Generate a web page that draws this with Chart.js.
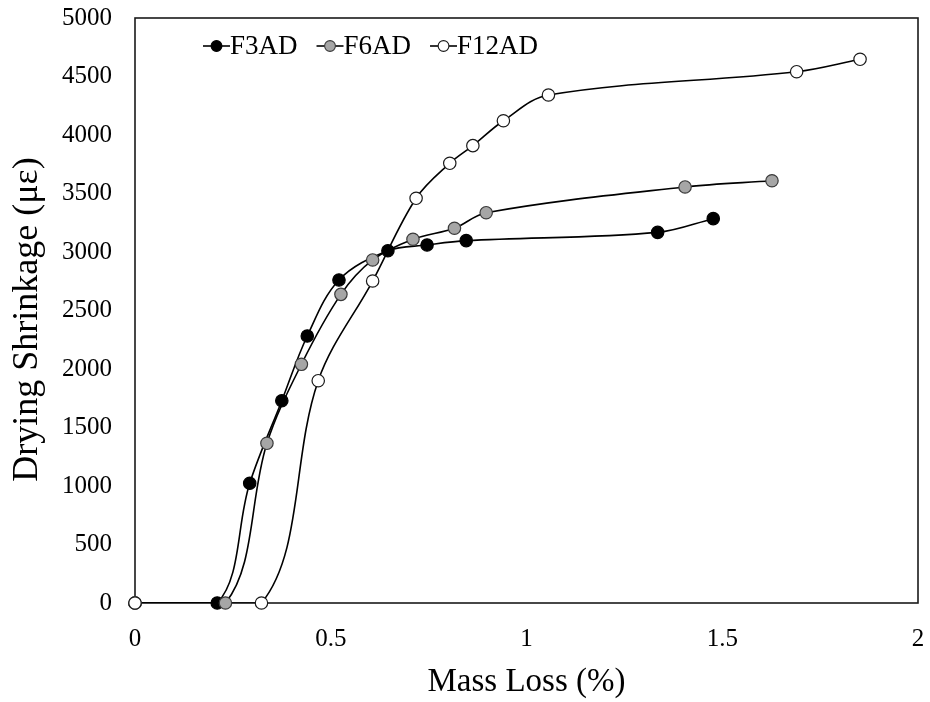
<!DOCTYPE html>
<html>
<head>
<meta charset="utf-8">
<script src="https://cdn.jsdelivr.net/npm/chart.js@4.4.1/dist/chart.umd.min.js"></script>
<style>
  html, body { margin: 0; padding: 0; background: #fff; }
  #wrap { width: 930px; height: 702px; }
</style>
</head>
<body>
<div id="wrap"><canvas id="chart" width="930" height="702"></canvas></div>
<script>
// values: mass loss (%) vs drying shrinkage (microstrain)
const seriesNames = ["F3AD", "F6AD", "F12AD"];

const massF3 = [0, 0.210, 0.293, 0.375, 0.440, 0.521, 0.646, 0.746, 0.846, 1.335, 1.477];
const shrinkF3 = [0, 0, 1023, 1729, 2282, 2761, 3011, 3060, 3097, 3168, 3285];

const massF6 = [0, 0.231, 0.337, 0.425, 0.526, 0.607, 0.710, 0.816, 0.897, 1.405, 1.627];
const shrinkF6 = [0, 0, 1365, 2040, 2638, 2932, 3109, 3203, 3336, 3556, 3609];

const massF12 = [0, 0.323, 0.468, 0.607, 0.718, 0.804, 0.863, 0.941, 1.056, 1.690, 1.852];
const shrinkF12 = [0, 0, 1900, 2752, 3459, 3758, 3909, 4122, 4342, 4541, 4647];

const xTicks = [0, 0.5, 1, 1.5, 2];
const yTicks = [0, 500, 1000, 1500, 2000, 2500, 3000, 3500, 4000, 4500, 5000];

const fills = ["#000000", "#a6a6a6", "#ffffff"];
const edges = ["#000000", "#3a3a3a", "#1a1a1a"];

const SERIF = "'Liberation Serif', 'Times New Roman', serif";

function toPoints(xs, ys) {
    return xs.map((x, i) => ({x, y: ys[i]}));
}

const raw = [
    toPoints(massF3, shrinkF3),
    toPoints(massF6, shrinkF6),
    toPoints(massF12, shrinkF12),
];

// curves are clipped to the plot box, markers are not (so the ones sitting on 0 stay round)
const lineSets = raw.map((pts, i) => ({
    label: seriesNames[i] + " line",
    data: pts,
    showLine: true,
    borderColor: "#000",
    borderWidth: 1.6,
    pointRadius: 0,
    tension: 0.35,
    fill: false,
    order: 10 - i,
}));
const markerSets = raw.map((pts, i) => ({
    label: seriesNames[i],
    data: pts,
    showLine: false,
    pointRadius: 6.2,
    pointBackgroundColor: fills[i],
    pointBorderColor: edges[i],
    pointBorderWidth: 1.2,
    clip: false,
    legend: true,
    order: 3 - i,
}));

const frame = {
    id: "frame",
    beforeDatasetsDraw(chart) {
        const {ctx, chartArea: a} = chart;
        ctx.save();
        ctx.strokeStyle = "#1a1a1a";
        ctx.lineWidth = 1.6;
        ctx.strokeRect(a.left, a.top, a.right - a.left, a.bottom - a.top);
        ctx.restore();
    },
};

// excel-like legend: short line with the marker on it, then the name
const lineLegend = {
    id: "lineLegend",
    afterDatasetsDraw(chart, args, opts) {
        const ctx = chart.ctx;
        ctx.save();
        ctx.font = opts.font;
        ctx.textBaseline = "middle";
        let x = opts.x;
        chart.data.datasets.filter(d => d.legend).forEach(d => {
            ctx.strokeStyle = "#000";
            ctx.lineWidth = 1.6;
            ctx.beginPath();
            ctx.moveTo(x, opts.y);
            ctx.lineTo(x + opts.lineLen, opts.y);
            ctx.stroke();
            ctx.beginPath();
            ctx.arc(x + opts.lineLen / 2, opts.y, 5.4, 0, Math.PI * 2);
            ctx.fillStyle = d.pointBackgroundColor;
            ctx.fill();
            ctx.lineWidth = 1.1;
            ctx.strokeStyle = d.pointBorderColor;
            ctx.stroke();
            ctx.fillStyle = "#000";
            ctx.fillText(d.label, x + opts.lineLen, opts.y + 1);
            x += opts.lineLen + ctx.measureText(d.label).width + opts.gap;
        });
        ctx.restore();
    },
};

// keep the plot box where the figure has it: no extra room for tick label overhang
function noOverhang(s) {
    s.paddingTop = 0;
    s.paddingBottom = 0;
    s.paddingLeft = 0;
    s.paddingRight = 0;
}

new Chart(document.getElementById("chart"), {
    type: "scatter",
    data: {datasets: [...lineSets, ...markerSets]},
    options: {
        responsive: false,
        animation: false,
        layout: {padding: {top: 18, right: 12, left: 0, bottom: 0}},
        plugins: {
            legend: {display: false},
            tooltip: {enabled: false},
            lineLegend: {x: 203, y: 46, lineLen: 27, gap: 19, font: "27px " + SERIF},
        },
        scales: {
            x: {
                type: "linear",
                min: 0,
                max: 2,
                afterBuildTicks: s => { s.ticks = xTicks.map(v => ({value: v})); },
                afterFit: s => { s.height = 99; noOverhang(s); },
                grid: {display: false, drawTicks: false},
                border: {display: false},
                ticks: {
                    padding: 21,
                    color: "#000",
                    font: {family: SERIF, size: 25},
                    callback: v => String(v),
                },
                title: {
                    display: true,
                    text: "Mass Loss (%)",
                    color: "#000",
                    font: {family: SERIF, size: 33, lineHeight: 1.1},
                    padding: {top: 0, bottom: 2},
                },
            },
            y: {
                type: "linear",
                min: 0,
                max: 5000,
                afterBuildTicks: s => { s.ticks = yTicks.map(v => ({value: v})); },
                afterFit: s => { s.width = 135; noOverhang(s); },
                grid: {display: false, drawTicks: false},
                border: {display: false},
                ticks: {
                    padding: 23,
                    color: "#000",
                    font: {family: SERIF, size: 25},
                    callback: v => String(v),
                },
                title: {
                    display: true,
                    // trailing spaces nudge the rotated title a little lower, as in the figure
                    text: "Drying Shrinkage (με)  ",
                    color: "#000",
                    font: {family: SERIF, size: 36, lineHeight: 1.1},
                    padding: {top: 8, bottom: 0},
                },
            },
        },
    },
    plugins: [frame, lineLegend],
});
</script>
</body>
</html>
